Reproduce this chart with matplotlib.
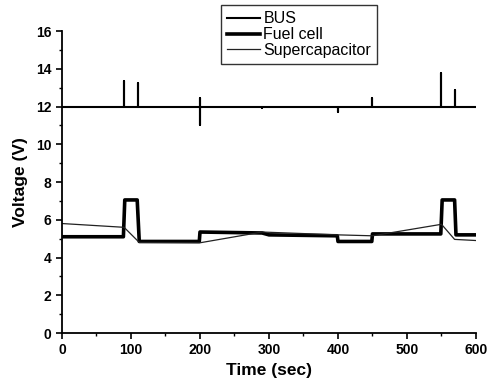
import matplotlib
matplotlib.use("Agg")
import matplotlib.pyplot as plt
from matplotlib.ticker import MultipleLocator

plt.rcParams['font.family'] = ['Liberation Sans', 'DejaVu Sans']

# BUS voltage (with transient spikes)
t_bus = [0, 90, 90, 90, 110, 110, 110, 200, 200, 200, 200, 290, 290, 290,
         400, 400, 400, 450, 450, 450, 550, 550, 550, 570, 570, 570, 600]
v_bus = [12, 12, 13.35, 12, 12, 13.25, 12, 12, 12.45, 11.0, 12, 12, 11.9, 12,
         12, 11.7, 12, 12, 12.45, 12, 12, 13.75, 12, 12, 12.85, 12, 12]

# Fuel cell voltage
t_fc = [0, 89, 91, 109, 112, 199, 200, 290, 300, 399, 400, 449, 450, 549, 551, 569, 571, 600]
v_fc = [5.1, 5.1, 7.05, 7.05, 4.85, 4.85, 5.35, 5.3, 5.2, 5.15, 4.85, 4.85, 5.25,
        5.25, 7.05, 7.05, 5.2, 5.2]

# Supercapacitor voltage
t_sc = [0, 90, 112, 200, 290, 400, 450, 550, 569, 600]
v_sc = [5.8, 5.6, 4.8, 4.78, 5.35, 5.2, 5.15, 5.76, 4.96, 4.9]

x_ticks = [0, 100, 200, 300, 400, 500, 600]
y_ticks = [0, 2, 4, 6, 8, 10, 12, 14, 16]

fig = plt.figure(figsize=(4.9, 3.91), dpi=100)
ax = fig.add_axes([0.1265, 0.1483, 0.8449, 0.7724])

ax.plot(t_bus, v_bus, color='black', lw=1.5, label='BUS')
ax.plot(t_fc, v_fc, color='black', lw=2.6, label='Fuel cell')
ax.plot(t_sc, v_sc, color='#222222', lw=0.9, label='Supercapacitor')

ax.set_xlim(0, 600)
ax.set_ylim(0, 16)
ax.set_xticks(x_ticks)
ax.set_yticks(y_ticks)
ax.xaxis.set_minor_locator(MultipleLocator(50))
ax.yaxis.set_minor_locator(MultipleLocator(1))
ax.spines['top'].set_visible(False)
ax.spines['right'].set_visible(False)
for s in ['left', 'bottom']:
    ax.spines[s].set_linewidth(1.3)
ax.tick_params(which='major', direction='out', length=4, width=1.2, labelsize=10)
ax.tick_params(which='minor', direction='out', length=2.5, width=1.0)
for lab in ax.get_xticklabels() + ax.get_yticklabels():
    lab.set_fontweight('bold')

ax.set_xlabel('Time (sec)', fontsize=12.5, fontweight='bold', labelpad=4)
ax.set_ylabel('Voltage (V)', fontsize=12.5, fontweight='bold', labelpad=6)

leg = fig.legend(loc='upper left', bbox_to_anchor=(0.451, 0.987),
                 bbox_transform=fig.transFigure, frameon=True, fancybox=False,
                 edgecolor='black', fontsize=11.5, handlelength=2.05,
                 handletextpad=0.2, labelspacing=0.05, borderpad=0.4,
                 borderaxespad=0)
leg.get_frame().set_linewidth(1.0)

fig.savefig('out.png', dpi=100)
